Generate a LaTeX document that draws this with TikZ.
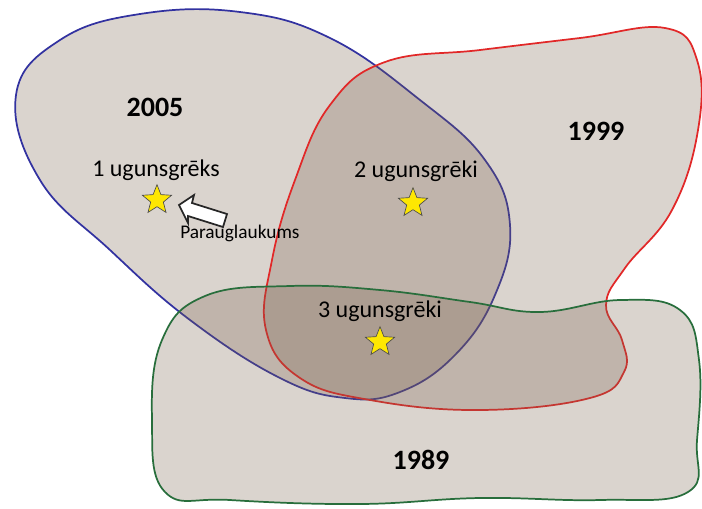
\documentclass[tikz,border=0pt]{standalone}
\usepackage{fontspec}
\setmainfont{Carlito}
\usetikzlibrary{shapes.geometric}
\definecolor{regfill}{RGB}{120,95,75}
\tikzset{
  region/.style={fill=regfill, fill opacity=0.27, line width=1.3pt},
  yr/.style={font=\bfseries\fontsize{21}{24}\selectfont},
  lab/.style={font=\fontsize{18}{21}\selectfont},
  fire/.style={star, star points=5, star point ratio=2.3, fill=yellow!90!orange, draw=black!70, line width=0.5pt, minimum size=23pt, inner sep=0pt},
}
\begin{document}
\begin{tikzpicture}[x=0.75pt,y=-0.75pt]
\useasboundingbox (0,0) rectangle (702,508);
% 2005 blue
\draw[region, draw={rgb,255:red,50;green,50;blue,160}] plot[smooth cycle, tension=0.7] coordinates {
 (16,95) (60,40) (140,14) (240,12) (330,38) (420,100) (485,160) (510,225) (495,295) (455,355) (400,392) (345,398) (280,378) (190,320) (110,250) (40,180)};
% 1999 red
\draw[region, draw={rgb,255:red,225;green,40;blue,40}] plot[smooth cycle, tension=0.7] coordinates {
 (330,105) (385,62) (480,50) (580,38) (665,28) (697,60) (698,130) (672,210) (625,268) (606,305) (622,340) (624,372) (590,398) (480,410) (370,400) (300,378) (266,330) (272,260) (295,180)};
% 1989 green
\draw[region, draw={rgb,255:red,40;green,110;blue,60}] plot[smooth cycle, tension=0.7] coordinates {
 (205,296) (290,286) (380,290) (470,302) (540,312) (620,300) (680,310) (699,360) (697,440) (688,492) (600,500) (480,498) (360,504) (230,500) (165,492) (152,420) (162,340)};
\node[yr] (y2005) at (155,107) {2005};
\node[yr] (y1999) at (596,131) {1999};
\node[yr] (y1989) at (421,460) {1989};
\node[lab] (l1) at (156,170) {1 ugunsgrēks};
\node[lab] (l2) at (416,171) {2 ugunsgrēki};
\node[lab] (l3) at (380,311) {3 ugunsgrēki};
\node[fire] (s1) at (157,200) {};
\node[fire] (s2) at (413,203) {};
\node[fire] (s3) at (380,342) {};
% block arrow
\draw[fill=white, line width=1.3pt, draw=black!85] (179,205) -- (194,195) -- (192,203) -- (227,214) -- (223,227) -- (188,216) -- (188,223) -- cycle;
\node[font=\fontsize{14.5}{16}\selectfont, anchor=west, inner sep=0pt] (pl) at (180,233) {Parauglaukums};
\end{tikzpicture}
\end{document}
